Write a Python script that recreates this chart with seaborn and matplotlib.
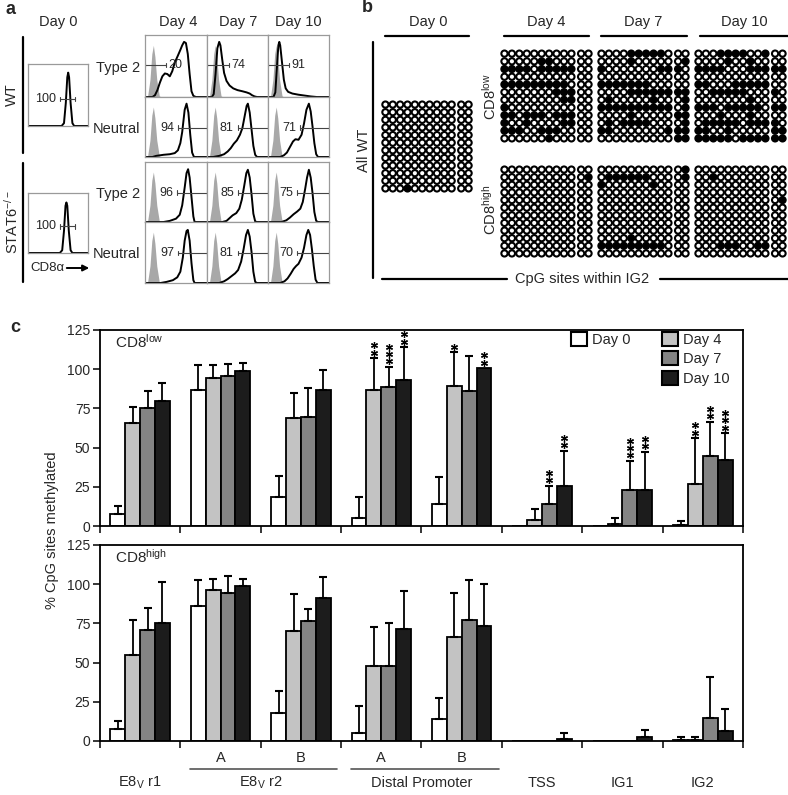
import matplotlib.pyplot as plt
import numpy as np
import pandas as pd
import seaborn as sns
from matplotlib.lines import Line2D
from matplotlib.patches import Patch, FancyArrowPatch

# ---------------- panel c: % CpG methylated ----------------
regions = ['E8v r1', 'E8v r2 A', 'E8v r2 B', 'DP A', 'DP B', 'TSS', 'IG1', 'IG2']
days = ['Day 0', 'Day 4', 'Day 7', 'Day 10']
day_colors = ['white', '#c3c3c3', '#848484', '#1c1c1c']

# CD8 low
low_d0 = [7.4, 86.7, 18.3, 4.9, 14.0, 0.0, 0.0, 0.9]
low_d4 = [65.9, 94.6, 68.7, 86.7, 89.3, 3.6, 1.4, 26.7]
low_d7 = [75.0, 95.9, 69.3, 88.4, 86.3, 13.8, 23.2, 44.4]
low_d10 = [80.0, 99.0, 86.5, 93.1, 100.6, 25.5, 23.2, 42.1]
low_e0 = [5.6, 15.8, 13.7, 13.8, 17.0, 0.0, 0.0, 2.3]
low_e4 = [10.1, 7.9, 16.3, 20.3, 21.5, 7.2, 3.6, 29.2]
low_e7 = [11.0, 7.1, 18.5, 13.0, 22.1, 11.9, 18.3, 21.9]
low_e10 = [11.0, 4.7, 13.0, 20.9, 0.0, 22.3, 24.2, 17.0]
low_s4 = ['', '', '', '**', '*', '', '', '**']
low_s7 = ['', '', '', '***', '', '**', '***', '**']
low_s10 = ['', '', '', '**', '**', '**', '**', '***']

# CD8 high
high_d0 = [7.4, 86.3, 18.1, 5.3, 13.8, 0.0, 0.0, 0.6]
high_d4 = [54.8, 96.1, 70.4, 47.8, 66.5, 0.0, 0.0, 0.6]
high_d7 = [70.8, 94.6, 76.5, 47.8, 77.0, 0.0, 0.0, 14.5]
high_d10 = [75.5, 98.9, 91.2, 71.4, 73.6, 1.3, 2.3, 6.4]
high_e0 = [5.6, 16.4, 13.8, 17.0, 13.4, 0.0, 0.0, 2.2]
high_e4 = [22.4, 7.2, 23.1, 25.1, 27.7, 0.0, 0.0, 2.2]
high_e7 = [14.0, 10.8, 7.9, 27.2, 25.7, 0.0, 0.0, 26.5]
high_e10 = [26.1, 4.6, 13.6, 24.5, 26.3, 3.6, 4.7, 14.0]

# ---------------- panel a: CD8a histograms (x, y as box fractions) ----------------
iso_curve = [(0.04, 0), (0.08, 0.3), (0.11, 0.75), (0.135, 0.9), (0.16, 0.7),
             (0.19, 0.3), (0.23, 0.02), (0.26, 0)]
wt_d0 = [(0, 0), (0.56, 0), (0.6, 0.05), (0.63, 0.4), (0.655, 0.85), (0.67, 0.93),
         (0.685, 0.85), (0.71, 0.4), (0.74, 0.05), (0.77, 0), (1, 0)]
s6_d0 = [(0, 0), (0.53, 0), (0.57, 0.05), (0.6, 0.4), (0.625, 0.85), (0.64, 0.91),
         (0.655, 0.85), (0.68, 0.4), (0.71, 0.05), (0.74, 0), (1, 0)]
wt_t2_d4 = [(0, 0), (0.12, 0), (0.16, 0.03), (0.2, 0.12), (0.24, 0.25), (0.28, 0.36),
            (0.32, 0.41), (0.36, 0.4), (0.4, 0.36), (0.44, 0.45), (0.48, 0.6), (0.53, 0.72),
            (0.57, 0.82), (0.6, 0.9), (0.63, 0.96), (0.66, 0.94), (0.69, 0.75), (0.72, 0.4),
            (0.75, 0.1), (0.78, 0.02), (0.82, 0), (1, 0)]
wt_t2_d7 = [(0, 0), (0.08, 0), (0.11, 0.05), (0.14, 0.4), (0.17, 0.85), (0.2, 0.96),
            (0.22, 0.9), (0.25, 0.65), (0.28, 0.42), (0.32, 0.28), (0.37, 0.2), (0.43, 0.15),
            (0.5, 0.12), (0.58, 0.1), (0.65, 0.08), (0.7, 0.06), (0.74, 0.03), (0.78, 0.01),
            (0.82, 0), (1, 0)]
wt_t2_d10 = [(0, 0), (0.09, 0), (0.12, 0.08), (0.145, 0.5), (0.17, 0.9), (0.185, 0.96),
             (0.2, 0.9), (0.23, 0.6), (0.26, 0.3), (0.29, 0.15), (0.33, 0.09), (0.4, 0.06),
             (0.5, 0.04), (0.6, 0.025), (0.7, 0.01), (0.8, 0), (1, 0)]
wt_n_d4 = [(0, 0), (0.12, 0), (0.18, 0.02), (0.3, 0.04), (0.4, 0.05), (0.48, 0.07),
           (0.53, 0.12), (0.57, 0.25), (0.6, 0.45), (0.64, 0.85), (0.67, 0.96), (0.7, 0.8),
           (0.73, 0.4), (0.76, 0.08), (0.79, 0), (1, 0)]
wt_n_d7 = [(0, 0), (0.1, 0), (0.2, 0.02), (0.28, 0.05), (0.34, 0.1), (0.39, 0.16),
           (0.44, 0.24), (0.49, 0.3), (0.54, 0.4), (0.58, 0.52), (0.62, 0.75), (0.65, 0.92),
           (0.67, 0.96), (0.7, 0.8), (0.73, 0.5), (0.76, 0.2), (0.79, 0.04), (0.82, 0), (1, 0)]
wt_n_d10 = [(0, 0), (0.2, 0), (0.26, 0.03), (0.31, 0.08), (0.36, 0.18), (0.41, 0.28),
            (0.45, 0.32), (0.5, 0.31), (0.55, 0.4), (0.59, 0.6), (0.63, 0.85), (0.67, 0.96),
            (0.7, 0.82), (0.73, 0.55), (0.76, 0.25), (0.79, 0.05), (0.82, 0), (1, 0)]
s6_t2_d4 = [(0, 0), (0.3, 0), (0.4, 0.02), (0.5, 0.06), (0.56, 0.13), (0.6, 0.3),
            (0.64, 0.62), (0.67, 0.88), (0.695, 0.95), (0.72, 0.8), (0.75, 0.45), (0.78, 0.1),
            (0.8, 0), (1, 0)]
s6_t2_d7 = [(0, 0), (0.25, 0), (0.32, 0.02), (0.37, 0.07), (0.42, 0.12), (0.48, 0.16),
            (0.53, 0.24), (0.57, 0.4), (0.61, 0.65), (0.645, 0.88), (0.67, 0.94), (0.7, 0.8),
            (0.73, 0.5), (0.76, 0.15), (0.79, 0.01), (0.82, 0), (1, 0)]
s6_t2_d10 = [(0, 0), (0.22, 0), (0.3, 0.03), (0.36, 0.08), (0.42, 0.14), (0.48, 0.19),
             (0.53, 0.24), (0.57, 0.36), (0.61, 0.6), (0.64, 0.8), (0.67, 0.94), (0.7, 0.8),
             (0.73, 0.52), (0.76, 0.18), (0.79, 0.02), (0.82, 0), (1, 0)]
s6_n_d4 = [(0, 0), (0.25, 0), (0.35, 0.02), (0.45, 0.05), (0.52, 0.1), (0.57, 0.2),
           (0.61, 0.45), (0.64, 0.75), (0.67, 0.92), (0.69, 0.94), (0.72, 0.75), (0.75, 0.35),
           (0.78, 0.05), (0.8, 0), (1, 0)]
s6_n_d7 = [(0, 0), (0.2, 0), (0.28, 0.03), (0.34, 0.07), (0.4, 0.12), (0.46, 0.17),
           (0.51, 0.23), (0.56, 0.38), (0.6, 0.6), (0.64, 0.85), (0.67, 0.94), (0.7, 0.82),
           (0.73, 0.55), (0.76, 0.2), (0.79, 0.02), (0.82, 0), (1, 0)]
s6_n_d10 = [(0, 0), (0.2, 0), (0.27, 0.03), (0.32, 0.08), (0.37, 0.16), (0.42, 0.25),
            (0.46, 0.3), (0.5, 0.34), (0.55, 0.45), (0.59, 0.62), (0.63, 0.85), (0.66, 0.94),
            (0.69, 0.85), (0.72, 0.6), (0.75, 0.3), (0.78, 0.06), (0.81, 0), (1, 0)]
gate_pct = [['20', '74', '91'], ['94', '81', '71'], ['96', '85', '75'], ['97', '81', '70']]
gate_tick = [[0.34, 0.36, 0.35], [0.53, 0.50, 0.53], [0.52, 0.50, 0.48], [0.53, 0.50, 0.48]]
row_labels = ['Type 2', 'Neutral', 'Type 2', 'Neutral']

# ---------------- panel b: methylation of CpG sites in IG2 (1 = methylated) ----------------
grid_d0 = ['000000000000'] * 11 + ['000100000000']
grid_d4_low = ['000000000000', '000001100000', '111101111100', '000000000000',
               '111111111000', '000000011100', '000000001100', '100000000000',
               '110111011100', '100100001100', '111001110000', '000000100000']
grid_d7_low = ['000011111000', '000010000001', '100000001110', '000000000000',
               '111111100000', '000011111111', '010000010001', '111111111101',
               '000010000011', '010111100001', '110000000111', '000000000011']
grid_d10_low = ['000111100100', '000010010000', '111100011111', '000000000000',
                '110001111100', '001111100010', '000000010000', '111011111011',
                '000100010000', '011111011110', '110010000011', '111110111111']
grid_d4_high = ['000000000000', '000000000001'] + ['000000000000'] * 10
grid_d7_high = ['000000000001', '011111100001', '100000010000'] + ['000000000000'] * 6 + \
               ['000010000000', '111111111000', '000000000000']
grid_d10_high = ['000000000000', '001000000000', '000000000000', '000000000000',
                 '000000000001'] + ['000000000000'] * 5 + ['000111001100', '000000000000']

sns.set_theme(style='ticks')
plt.rcParams['font.family'] = ['Liberation Sans', 'DejaVu Sans']
plt.rcParams['mathtext.default'] = 'regular'

W, H = 788, 795
fig = plt.figure(figsize=(W / 100, H / 100), dpi=100)


def px_axes(x0, y0, x1, y1):
    return fig.add_axes([x0 / W, 1 - y1 / H, (x1 - x0) / W, (y1 - y0) / H])


def ftext(x, y, s, **kw):
    fig.text(x / W, 1 - y / H, s, **kw)


def fline(x0, x1, y0, y1, **kw):
    fig.add_artist(Line2D([x0 / W, x1 / W], [1 - y0 / H, 1 - y1 / H],
                          transform=fig.transFigure, **kw))


# ======== panel a ========
ftext(5, 10, 'a', fontsize=13, fontweight='bold', va='center')
for lab, x in zip(days, [58, 178, 238, 298]):
    ftext(x, 22, lab, fontsize=10.5, ha='center', va='center')


def draw_hist(ax, curve, gx0, gx1, gy, pct, text_side, shaded=True):
    if shaded:
        ix, iy = np.array(iso_curve).T
        ax.fill_between(ix, iy, color='#a8a8a8', lw=0)
    cx, cy = np.array(curve).T
    ax.plot(cx, cy, color='black', lw=1.4)
    ax.plot([gx0, gx1], [gy, gy], color='#444444', lw=0.8)
    for gx in (gx0, gx1):
        ax.plot([gx, gx], [gy - 0.04, gy + 0.04], color='#444444', lw=0.8)
    if text_side == 'right':
        ax.text(gx1 + 0.04, gy, pct, fontsize=9, ha='left', va='center')
    else:
        ax.text(gx0 - 0.06, gy, pct, fontsize=9, ha='right', va='center')
    ax.set_xlim(0, 1)
    ax.set_ylim(0, 1.08)
    ax.set_xticks([])
    ax.set_yticks([])
    for sp in ax.spines.values():
        sp.set_color('#9a9a9a')
        sp.set_linewidth(0.9)


hist_curves = [[wt_t2_d4, wt_t2_d7, wt_t2_d10], [wt_n_d4, wt_n_d7, wt_n_d10],
               [s6_t2_d4, s6_t2_d7, s6_t2_d10], [s6_n_d4, s6_n_d7, s6_n_d10]]
rows_y = [(35, 97), (97, 157), (162, 222), (222, 283)]
cols_x = [(145, 207), (207, 268), (268, 329)]
for r, (y0, y1) in enumerate(rows_y):
    ftext(140, (y0 + y1) / 2 + 2, row_labels[r], fontsize=10.5, ha='right', va='center')
    for c, (x0, x1) in enumerate(cols_x):
        ax = px_axes(x0, y0, x1, y1)
        t = gate_tick[r][c]
        if r == 0:
            draw_hist(ax, hist_curves[r][c], 0.0, t, 0.56, gate_pct[r][c], 'right')
        else:
            draw_hist(ax, hist_curves[r][c], t, 1.0, 0.53, gate_pct[r][c], 'left')

ax = px_axes(28, 64, 88, 126)
draw_hist(ax, wt_d0, 0.53, 0.78, 0.47, '100', 'left', shaded=False)
ax = px_axes(28, 193, 88, 253)
draw_hist(ax, s6_d0, 0.53, 0.78, 0.48, '100', 'left', shaded=False)

fline(23, 23, 37, 153, color='black', lw=1.6)
fline(23, 23, 163, 282, color='black', lw=1.6)
ftext(12, 95, 'WT', fontsize=10.5, rotation=90, ha='center', va='center')
ftext(12, 222, 'STAT6$^{-/-}$', fontsize=10.5, rotation=90, ha='center', va='center')
ftext(30, 268, 'CD8α', fontsize=9.5, ha='left', va='center')
fig.add_artist(FancyArrowPatch((64 / W, 1 - 268 / H), (92 / W, 1 - 268 / H),
                               transform=fig.transFigure, arrowstyle='-|>',
                               mutation_scale=9, lw=1.4, color='black'))

# ======== panel b ========
ftext(362, 8, 'b', fontsize=13, fontweight='bold', va='center')
for lab, xc, (lx0, lx1) in zip(days, [428, 546, 643, 744],
                               [(385, 469), (504, 589), (601, 687), (700, 790)]):
    ftext(xc, 22, lab, fontsize=10.5, ha='center', va='center')
    fline(lx0, lx1, 36, 36, color='black', lw=1.6)
fline(373, 373, 42, 278, color='black', lw=1.6)
ftext(364, 150, 'All WT', fontsize=10.5, rotation=90, ha='center', va='center')
ftext(490, 97, 'CD8$^{low}$', fontsize=10.5, rotation=90, ha='center', va='center')
ftext(490, 210, 'CD8$^{high}$', fontsize=10.5, rotation=90, ha='center', va='center')
ftext(582, 279, 'CpG sites within IG2', fontsize=10.5, ha='center', va='center')
fline(382, 507, 279, 279, color='black', lw=1.6)
fline(660, 790, 279, 279, color='black', lw=1.6)


def draw_grid(ax, rows):
    mat = np.array([[int(ch) for ch in row] for row in rows])
    rr, cc = np.indices(mat.shape)
    xs = cc.ravel() + np.where(cc.ravel() >= 10, 0.3, 0.0)
    fc = np.where(mat.ravel() == 1, 'black', 'white')
    ax.scatter(xs, rr.ravel(), s=20, facecolors=fc, edgecolors='black', linewidths=1.5)
    ax.set_xlim(-0.6, 11.9)
    ax.set_ylim(11.6, -0.6)
    ax.axis('off')


draw_grid(px_axes(381, 100, 473, 193), grid_d0)
for (x0, x1), lo, hi in zip([(500, 593), (597, 690), (694, 787)],
                            [grid_d4_low, grid_d7_low, grid_d10_low],
                            [grid_d4_high, grid_d7_high, grid_d10_high]):
    draw_grid(px_axes(x0, 49, x1, 143), lo)
    draw_grid(px_axes(x0, 165, x1, 258), hi)

# ======== panel c ========
ftext(10, 327, 'c', fontsize=13, fontweight='bold', va='center')
bar_w = 0.74
offsets = (np.arange(4) - 1.5) * bar_w / 4


def draw_bars(ax, means, errs, stars, label):
    df = pd.DataFrame({'region': regions * 4,
                       'day': np.repeat(days, len(regions)),
                       'value': sum(means, [])})
    sns.barplot(data=df, x='region', y='value', hue='day', order=regions, hue_order=days,
                palette=day_colors, saturation=1, edgecolor='black', linewidth=1.3,
                width=bar_w, errorbar=None, legend=False, ax=ax, zorder=2)
    xs = np.arange(len(regions))
    for i in range(4):
        m = np.array(means[i])
        e = np.array(errs[i])
        keep = e > 0
        ax.errorbar(xs[keep] + offsets[i], m[keep], yerr=[np.zeros(keep.sum()), e[keep]],
                    fmt='none', ecolor='black', elinewidth=1.3, capsize=3.2, capthick=1.5,
                    zorder=3)
        if stars is not None:
            for j, s in enumerate(stars[i]):
                for k in range(len(s)):
                    ax.plot(xs[j] + offsets[i], m[j] + e[j] + 3.6 + k * 4.6,
                            marker=(6, 2, 0), ms=5, mew=0.9, color='black',
                            clip_on=False, zorder=4)
    ax.set_xlim(-0.5, 7.5)
    ax.set_ylim(0, 125)
    ax.set_yticks([0, 25, 50, 75, 100, 125])
    ax.set_xticks(np.arange(-0.5, 8, 1))
    ax.set_xticklabels([])
    ax.set_xlabel('')
    ax.set_ylabel('')
    ax.tick_params(direction='out', length=5, width=1.3, labelsize=10, pad=2)
    for sp in ax.spines.values():
        sp.set_linewidth(1.3)
        sp.set_color('black')
    ax.text(0.023, 0.985, label, transform=ax.transAxes, fontsize=11, ha='left', va='top')


ax_top = px_axes(100, 330, 743, 526)
draw_bars(ax_top, [low_d0, low_d4, low_d7, low_d10], [low_e0, low_e4, low_e7, low_e10],
          [[''] * 8, low_s4, low_s7, low_s10], 'CD8$^{low}$')
ax_bot = px_axes(100, 545, 743, 741)
draw_bars(ax_bot, [high_d0, high_d4, high_d7, high_d10],
          [high_e0, high_e4, high_e7, high_e10], None, 'CD8$^{high}$')

blank = Patch(facecolor='none', edgecolor='none', label=' ')
handles = [Patch(facecolor=day_colors[0], edgecolor='black', lw=1.5, label=days[0]),
           blank, blank] + \
          [Patch(facecolor=col, edgecolor='black', lw=1.5, label=d)
           for col, d in zip(day_colors[1:], days[1:])]
ax_top.legend(handles=handles, ncol=2, loc='upper left', bbox_to_anchor=(0.733, 0.99),
              frameon=False, fontsize=10.5, handlelength=1.1, handleheight=1.1,
              handletextpad=0.3, labelspacing=0.3, columnspacing=2.2, borderpad=0,
              borderaxespad=0)

ftext(52, 530, '% CpG sites methylated', fontsize=10.5, rotation=90, ha='center', va='center')

# group labels under the lower panel
y_ab = (741 - 758) / 196
y_line = (741 - 769) / 196
y_name = (741 - 783) / 196
tr = ax_bot.get_xaxis_transform()
for xc, s in zip([1, 2, 3, 4], ['A', 'B', 'A', 'B']):
    ax_bot.text(xc, y_ab, s, transform=tr, fontsize=10.5, ha='center', va='center')
for x0, x1 in [(0.62, 2.45), (2.62, 4.47)]:
    ax_bot.plot([x0, x1], [y_line, y_line], transform=tr, color='#555555', lw=1.2,
                clip_on=False)
for xc, s in zip([0, 1.5, 3.5, 5, 6, 7],
                 ['E8$_V$ r1', 'E8$_V$ r2', 'Distal Promoter', 'TSS', 'IG1', 'IG2']):
    ax_bot.text(xc, y_name, s, transform=tr, fontsize=10.5, ha='center', va='center')

fig.savefig('out.png', dpi=100)
